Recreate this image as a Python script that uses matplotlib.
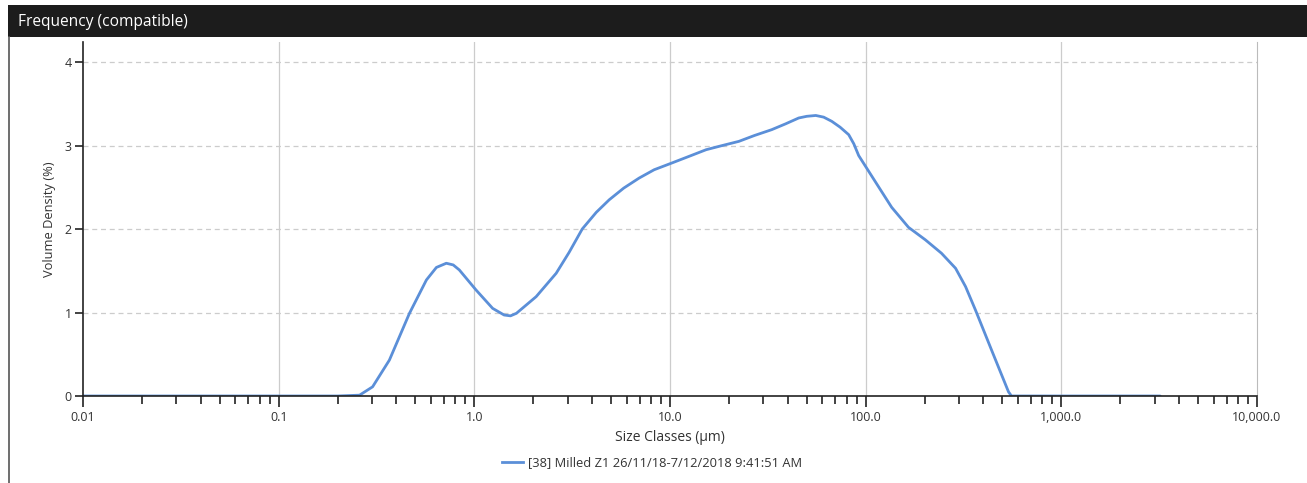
import matplotlib
matplotlib.use("Agg")
import matplotlib.pyplot as plt
import numpy as np
from matplotlib.ticker import FixedLocator, LogLocator, NullFormatter
from matplotlib.patches import Rectangle
from matplotlib.lines import Line2D

plt.rcParams['font.family'] = ['Open Sans', 'DejaVu Sans']

# Data
size_um = [0.01, 0.05, 0.1, 0.2, 0.259, 0.302, 0.368, 0.466, 0.569, 0.64, 0.719, 0.78, 0.838,
           1.02, 1.24, 1.42, 1.53, 1.64, 2.07, 2.62, 3.05, 3.56, 4.2, 4.89, 5.8, 6.95,
           8.3, 10.2, 12.5, 15.3, 18.5, 22.5, 27, 33.1, 39, 45.5, 50, 55.6, 61,
           67.1, 74, 81.9, 87, 92.1, 112.5, 135.8, 165.6, 202, 244, 288, 324, 364,
           440, 537, 556, 1000, 3200]
volume_density = [0, 0, 0, 0, 0.01, 0.11, 0.43, 0.99, 1.39, 1.54, 1.59, 1.57, 1.51,
                  1.27, 1.05, 0.97, 0.96, 0.99, 1.19, 1.47, 1.72, 2.0, 2.2, 2.35, 2.49, 2.61,
                  2.71, 2.79, 2.87, 2.95, 3.0, 3.05, 3.12, 3.19, 3.26, 3.33, 3.35, 3.36, 3.34,
                  3.29, 3.22, 3.13, 3.02, 2.88, 2.56, 2.26, 2.02, 1.87, 1.71, 1.53, 1.31, 1.03,
                  0.55, 0.05, 0, 0, 0]
x_ticks = [0.01, 0.1, 1.0, 10.0, 100.0, 1000.0, 10000.0]
x_tick_labels = ["0.01", "0.1", "1.0", "10.0", "100.0", "1,000.0", "10,000.0"]
y_ticks = [0, 1, 2, 3, 4]
series_label = "[38] Milled Z1 26/11/18-7/12/2018 9:41:51 AM"
title = "Frequency (compatible)"
x_label = "Size Classes (\u00b5m)"
y_label = "Volume Density (%)"

fig = plt.figure(figsize=(13.07, 4.83), dpi=100)
fig.patch.set_facecolor('white')

# title bar
fig.patches.append(Rectangle((8/1307, 1-37/483), 1-8/1307, 32/483, transform=fig.transFigure,
                             facecolor='#1c1c1c', edgecolor='none', zorder=0))
fig.text(18/1307, 1-22/483, title, color='white', fontsize=11.2, va='center', ha='left')
# left border line
fig.lines.append(Line2D([8.5/1307, 8.5/1307], [0, 1-37/483], transform=fig.transFigure,
                        color='#555555', lw=1.2))

ax = fig.add_axes([83/1307, 1-396/483, (1257-83)/1307, (396-42)/483])
ax.plot(size_um, volume_density, color='#5b8fd8', lw=2.0,
        solid_joinstyle='round', solid_capstyle='round')
ax.set_xscale('log')
ax.set_xlim(0.01, 10000)
ax.set_ylim(0, 4.24)

ax.xaxis.set_major_locator(FixedLocator(x_ticks))
ax.set_xticklabels(x_tick_labels, fontsize=9, color='#333333')
ax.xaxis.set_minor_locator(LogLocator(base=10, subs=np.arange(2, 10)))
ax.xaxis.set_minor_formatter(NullFormatter())
ax.set_yticks(y_ticks)
ax.set_yticklabels([str(v) for v in y_ticks], fontsize=9, color='#333333')

ax.tick_params(axis='x', which='major', length=8, width=1.2, color='#222222', direction='out', pad=3)
ax.tick_params(axis='x', which='minor', length=6, width=1.2, color='#222222', direction='out')
ax.tick_params(axis='y', which='major', length=6, width=1.2, color='#222222', direction='out', pad=2)

ax.spines['top'].set_visible(False)
ax.spines['right'].set_color('#bbbbbb')
ax.spines['right'].set_linewidth(0.8)
ax.spines['left'].set_color('#222222')
ax.spines['bottom'].set_color('#222222')
ax.spines['left'].set_linewidth(1.2)
ax.spines['bottom'].set_linewidth(1.2)

for xv in x_ticks[1:-1]:
    ax.axvline(xv, color='#cccccc', lw=0.9, zorder=0)
for yv in y_ticks[1:]:
    ax.axhline(yv, color='#cccccc', lw=0.9, ls=(0, (4, 3)), zorder=0)

ax.set_xlabel(x_label, fontsize=10, color='#333333', labelpad=4)
ax.set_ylabel(y_label, fontsize=9.3, color='#333333', labelpad=6)

handle = Line2D([], [], color='#5b8fd8', lw=2.0)
fig.legend([handle], [series_label], loc='center', bbox_to_anchor=(652/1307, 1-463/483),
           frameon=False, fontsize=9.3, handlelength=1.6, handletextpad=0.4,
           labelcolor='#333333')

fig.savefig('out.png', dpi=100)
